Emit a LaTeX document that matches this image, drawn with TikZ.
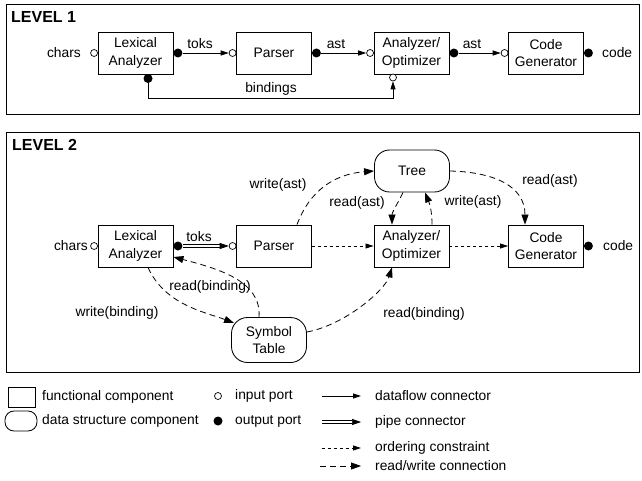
\documentclass[tikz,border=0pt]{standalone}
\usepackage{fontspec}
\setmainfont{Liberation Sans}
\usetikzlibrary{arrows.meta,calc}
\begin{document}
\begin{tikzpicture}[x=1pt,y=-1pt,
  every node/.style={font=\fontsize{13.8}{17.5}\selectfont, inner sep=0pt},
  comp/.style={draw, line width=0.85pt, minimum width=75pt, minimum height=42pt, align=center, inner sep=0pt},
  dstruct/.style={comp, rounded corners=15pt},
  inport/.style={circle, draw, fill=white, line width=0.7pt, minimum size=7pt, inner sep=0pt},
  outport/.style={circle, fill=black, minimum size=9pt, inner sep=0pt},
  flow/.style={line width=0.8pt, -{Triangle[length=8pt,width=5pt]}},
  pipe/.style={double, double distance=2pt, line width=0.7pt, -{Triangle[length=9pt,width=6pt]}},
  order/.style={line width=0.8pt, dash pattern=on 3pt off 3pt, -{Triangle[length=8pt,width=5pt]}},
  rw/.style={line width=0.8pt, dash pattern=on 6pt off 4pt, -{Triangle[length=10pt,width=7pt]}},
  frame/.style={draw, line width=0.9pt},
  lvl/.style={font=\fontsize{16}{18}\selectfont\bfseries, anchor=west, inner sep=0pt}
]
\useasboundingbox (0,0) rectangle (642,481);

% ---------- LEVEL 1 ----------
\draw[frame] (6,4) rectangle (639,114);
\node[lvl] (lv1) at (11,17) {LEVEL 1};

\node[comp] (l1lex) at (135.5,53) {Lexical\\Analyzer};
\node[comp] (l1par) at (274,53) {Parser};
\node[comp] (l1ana) at (411.5,53) {Analyzer/\\Optimizer};
\node[comp] (l1cod) at (546,53) {Code\\Generator};

\node[inport]  (l1lexi) at ($(l1lex.west)+(-3.5,0)$) {};
\node[outport] (l1lexo) at ($(l1lex.east)+(4.5,0)$) {};
\node[outport] (l1lexb) at (148,78.5) {};
\node[inport]  (l1pari) at ($(l1par.west)+(-3.5,0)$) {};
\node[outport] (l1paro) at ($(l1par.east)+(4.5,0)$) {};
\node[inport]  (l1anai) at ($(l1ana.west)+(-3.5,0)$) {};
\node[outport] (l1anao) at ($(l1ana.east)+(4.5,0)$) {};
\node[inport]  (l1anab) at (393,77.5) {};
\node[inport]  (l1codi) at ($(l1cod.west)+(-3.5,0)$) {};
\node[outport] (l1codo) at ($(l1cod.east)+(4.5,0)$) {};

\node[anchor=east] (l1chars) at (81,53) {chars};
\node[anchor=west] (l1code) at (602,53) {code};

\draw[flow] (l1lexo) -- (l1pari);
\draw[flow] (l1paro) -- (l1anai);
\draw[flow] (l1anao) -- (l1codi);
\node (l1toks) at (200,44) {toks};
\node (l1ast1) at (336,44) {ast};
\node (l1ast2) at (472,44) {ast};

\coordinate (b1) at (148,98);
\coordinate (b2) at (393,98);
\draw[flow] (l1lexb) -- (b1) -- (b2) -- (l1anab);
\node (l1bind) at (271,89) {bindings};

% ---------- LEVEL 2 ----------
\draw[frame] (6,132) rectangle (639,372);
\node[lvl] (lv2) at (12,145) {LEVEL 2};

\node[comp] (l2lex) at (135.5,246) {Lexical\\Analyzer};
\node[comp] (l2par) at (274,246) {Parser};
\node[comp] (l2ana) at (411.5,246) {Analyzer/\\Optimizer};
\node[comp] (l2cod) at (546,246) {Code\\Generator};
\node[dstruct] (tree) at (412,171) {Tree};
\node[dstruct, minimum height=45pt, rounded corners=16pt] (sym) at (269,340) {Symbol\\Table};

\node[inport]  (l2lexi) at ($(l2lex.west)+(-3.5,0)$) {};
\node[outport] (l2lexo) at ($(l2lex.east)+(4.5,0)$) {};
\node[inport]  (l2pari) at ($(l2par.west)+(-3.5,0)$) {};
\node[outport] (l2codo) at ($(l2cod.east)+(4.5,0)$) {};

\node[anchor=east] (l2chars) at (88,246) {chars};
\node[anchor=west] (l2code) at (603,246) {code};

\draw[pipe] (l2lexo) -- (l2pari);
\node (l2toks) at (199,237) {toks};

\draw[order] (l2par) -- (l2ana);
\draw[order] (l2ana) -- (l2cod);

\draw[rw] ($(l2par.north)+(23,0)$) .. controls (310,190) and (335,174) .. (tree.west);
\node (wast1) at (278,185) {write(ast)};

\draw[rw] (tree.east) .. controls (492,172) and (525,185) .. ($(l2cod.north)+(-21,0)$);
\node (rast2) at (550,181) {read(ast)};

\draw[rw] ($(tree.south)+(-9,0)$) .. controls (398,203) and (392,212) .. ($(l2ana.north)+(-19.5,0)$);
\node (rast1) at (357,203) {read(ast)};

\draw[rw] ($(l2ana.north)+(20.5,0)$) .. controls (432,207) and (428,200) .. ($(tree.south)+(13,0)$);
\node (wast2) at (473,202) {write(ast)};

\draw[rw] ($(l2lex.south)+(12.5,0)$) .. controls (165,305) and (205,312) .. ($(sym.west)+(3,-17)$);
\node (wbind) at (117,313) {write(binding)};

\draw[rw] ($(sym.north)+(-10,0)$) .. controls (262,280) and (215,268) .. ($(l2lex.east)+(0,11)$);
\node (rbind1) at (210,287) {read(binding)};

\draw[rw] ($(sym.east)+(0,-8)$) .. controls (345,325) and (385,290) .. ($(l2ana.south)+(-19.5,0)$);
\node (rbind2) at (424,314) {read(binding)};

% ---------- LEGEND ----------
\node[comp, minimum width=27pt, minimum height=20pt] (legbox) at (21.5,397) {};
\node[dstruct, minimum width=32pt, minimum height=20pt, rounded corners=9pt] (legds) at (21,421) {};
\node[anchor=west] (legt1) at (42,397) {functional component};
\node[anchor=west] (legt2) at (42,421) {data structure component};

\node[inport]  (legin)  at (218,396) {};
\node[outport] (legout) at (218,421) {};
\node[anchor=west] (legt3) at (235,396) {input port};
\node[anchor=west] (legt4) at (235,421) {output port};

\coordinate (la1) at (322,396); \coordinate (lb1) at (361,396);
\coordinate (la2) at (322,422); \coordinate (lb2) at (361,422);
\coordinate (la3) at (322,448); \coordinate (lb3) at (361,448);
\coordinate (la4) at (320,466); \coordinate (lb4) at (361,466);
\draw[flow] (la1) -- (lb1);
\draw[pipe] (la2) -- (lb2);
\draw[order] (la3) -- (lb3);
\draw[rw] (la4) -- (lb4);
\node[anchor=west] (legt5) at (375,396) {dataflow connector};
\node[anchor=west] (legt6) at (375,422) {pipe connector};
\node[anchor=west] (legt7) at (375,448) {ordering constraint};
\node[anchor=west] (legt8) at (375,466) {read/write connection};
\end{tikzpicture}
\end{document}
